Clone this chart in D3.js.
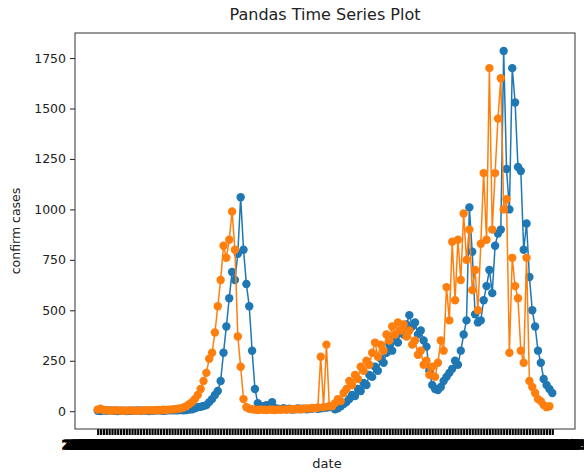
<!DOCTYPE html>
<html><head><meta charset="utf-8">
<script src="https://cdn.jsdelivr.net/npm/d3@7"></script>
<style>body{margin:0;background:#fff}text{font-family:"DejaVu Sans",sans-serif}</style>
</head><body><svg id="c" width="584" height="472"></svg>
<script>
const title = "Pandas Time Series Plot";
const yLabel = "confirm cases";
const xLabel = "date";
const startDate = "2020-01-22";
const yTicks = [0, 250, 500, 750, 1000, 1250, 1500, 1750];
const seriesA = [
 2,1,3,2,4,3,2,1,2,3, 1,2,2,3,4,2,3,2,1,2, 3,4,3,2,3,4,5,4,5,6, 5,
 6,8,10,14,20,22,26,30,45,60, 80,100,150,290,420,560,690,650,780,1060,
 800,630,520,300,110,40,20,25,30,20, 45,15,12,10,15,10,12,8,10,14,
 9,12,10,11,13,15,12,14,16,18, 20,22,10,15,25,35,45,60,80,75,
 110,100,140,130,180,170,220,200,260,240, 290,330,300,370,340,400,380,430,476,
 420,440,380,400,350,320,200,130,110,105, 120,150,170,190,210,250,230,300,380,450,
 1010,790,480,440,450,550,620,700,585,820, 880,900,1785,1200,1000,1700,1530,1210,1190,800,
 930,665,500,420,300,240,160,130,110,90
];
const seriesB = [
 8,12,6,5,4,3,5,4,3,2, 3,4,3,2,3,4,3,4,5,4, 5,6,5,7,6,8,9,10,12,14, 18,
 25,35,45,60,80,110,150,190,260,290, 390,520,650,820,760,850,990,800,370,220,
 60,20,12,10,8,6,8,7,6,8, 7,6,8,7,9,8,10,9,11,10, 12,11,14,13,16,15,18,270,20,330,
 25,25,40,60,50,90,110,150,130,180, 160,220,200,250,230,290,340,270,330,300,
 380,350,420,380,440,400,430,370,400,330, 350,280,300,230,250,180,220,170,240,350,
 300,615,450,840,550,850,650,980,750,900, 600,700,500,830,1180,850,1700,900,1180,1450,
 1650,1000,1050,290,760,620,560,300,240,760, 150,120,90,60,50,30,20,25
];
const N = seriesA.length;
const t0 = new Date(startDate + "T00:00:00");
const dates = d3.range(N).map(i => d3.timeFormat("%Y-%m-%d")(d3.timeDay.offset(t0, i)));

const svg = d3.select("#c");
const L = 75, R = 575, T = 33, B = 429;
const x = d3.scaleLinear().domain([-0.05*(N-1), 1.05*(N-1)]).range([L, R]);
const yMax = d3.max([d3.max(seriesA), d3.max(seriesB)]);
const yMin = d3.min([d3.min(seriesA), d3.min(seriesB)]);
const pad = 0.05*(yMax - yMin);
const y = d3.scaleLinear().domain([yMin - pad, yMax + pad]).range([B, T]);

// y axis
const yAxis = svg.append("g").attr("transform", `translate(${L},0)`)
  .call(d3.axisLeft(y).tickValues(yTicks).tickFormat(d3.format("d")).tickSize(5).tickPadding(4));
yAxis.select(".domain").remove();
yAxis.selectAll("text").attr("font-size", 12.5).attr("fill", "#222").attr("font-family", "DejaVu Sans");
yAxis.selectAll("line").attr("stroke", "#222");

// x axis: one tick & label per date (overlapping, as in the original)
const xAxis = svg.append("g").attr("transform", `translate(0,${B})`)
  .call(d3.axisBottom(x).tickValues(d3.range(N)).tickFormat(i => dates[i]).tickSize(6).tickPadding(5));
xAxis.select(".domain").remove();
xAxis.selectAll("line").attr("stroke", "#000").attr("stroke-width", 2.2);
xAxis.selectAll("text").attr("font-size", 12.5).attr("fill", "#000")
  .attr("stroke", "#000").attr("stroke-width", 1.6).attr("font-family", "DejaVu Sans");

const line = d3.line().x((d, i) => x(i)).y(d => y(d));
const series = [{v: seriesA, c: "#1f77b4"}, {v: seriesB, c: "#ff7f0e"}];
series.forEach(s => {
  const g = svg.append("g");
  g.append("path").datum(s.v).attr("d", line).attr("fill", "none").attr("stroke", s.c).attr("stroke-width", 1.5);
  g.selectAll("circle").data(s.v).join("circle")
    .attr("cx", (d, i) => x(i)).attr("cy", d => y(d)).attr("r", 4.2).attr("fill", s.c);
});

// frame
svg.append("rect").attr("x", L).attr("y", T).attr("width", R - L).attr("height", B - T)
  .attr("fill", "none").attr("stroke", "#333").attr("stroke-width", 1);

svg.append("text").attr("x", (L + R)/2).attr("y", 20).attr("text-anchor", "middle")
  .attr("font-size", 16).attr("fill", "#222").text(title);
svg.append("text").attr("x", (L + R)/2 + 2).attr("y", 468).attr("text-anchor", "middle")
  .attr("font-size", 13).attr("fill", "#222").text(xLabel);
svg.append("text").attr("transform", `translate(20,${(T + B)/2}) rotate(-90)`).attr("text-anchor", "middle")
  .attr("font-size", 12.5).attr("fill", "#222").text(yLabel);
</script></body></html>
